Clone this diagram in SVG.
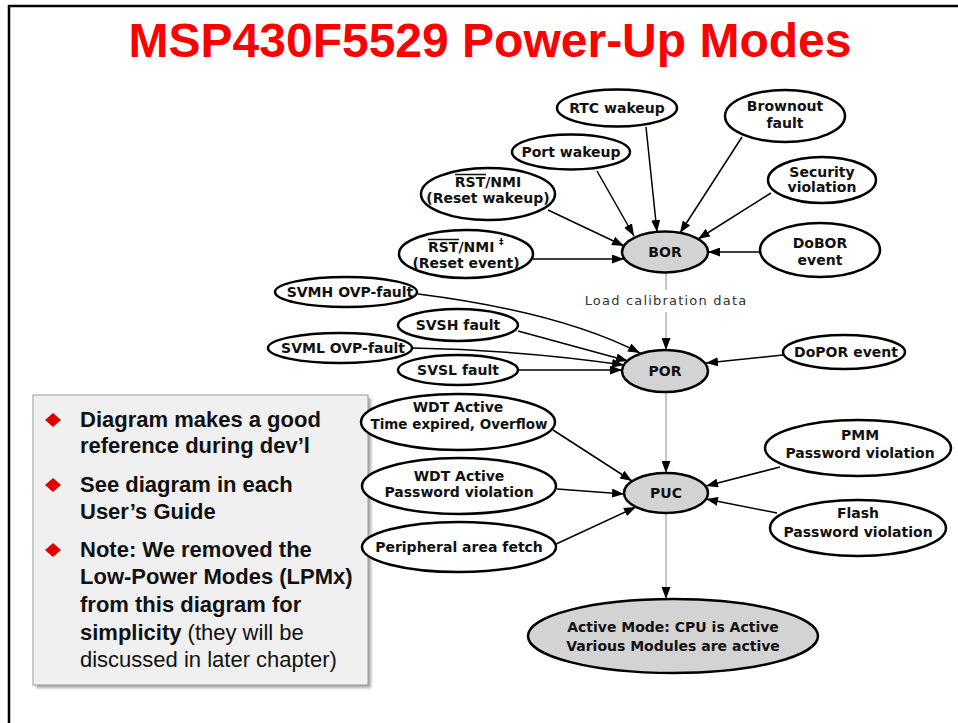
<svg xmlns="http://www.w3.org/2000/svg" width="958" height="723" viewBox="0 0 958 723">
<defs>
<style>
.n ellipse{fill:#fff;stroke:#000;stroke-width:2.5}
.n.g ellipse{fill:#d3d3d3}
.lbl{font-family:"DejaVu Sans",sans-serif;font-weight:bold;font-size:14px;text-anchor:middle;fill:#111}
.c{stroke:#000;stroke-width:1.5;fill:none;marker-end:url(#ah)}
.v{stroke:#8a8a8a;stroke-width:1;fill:none}
.va{stroke:#8a8a8a;stroke-width:1;fill:none;marker-end:url(#ah)}
.bt{font-family:"Liberation Sans",Arial,sans-serif;font-size:22px;fill:#111}
.b{font-weight:bold}
.dm{fill:#e00000}
</style>
<marker id="ah" viewBox="0 0 12 9" refX="12" refY="4.5" markerWidth="12" markerHeight="9" markerUnits="userSpaceOnUse" orient="auto">
<path d="M0,0 L12,4.5 L0,9 z" fill="#000"/>
</marker>
<filter id="sh" x="-5%" y="-5%" width="115%" height="115%">
<feGaussianBlur stdDeviation="1.5"/>
</filter>
</defs>
<rect x="0" y="0" width="958" height="723" fill="#fff"/>
<path d="M9,723 L9,6 L958,6" fill="none" stroke="#000" stroke-width="2.5"/>
<text x="490" y="57" font-family="Liberation Sans,Arial,sans-serif" font-weight="bold" font-size="48" fill="#ff0000" text-anchor="middle">MSP430F5529 Power-Up Modes</text>

<g id="notes">
<rect x="36" y="398" width="335" height="290" fill="#a8a8a8" filter="url(#sh)"/>
<rect x="33" y="395" width="335" height="290" fill="#f0f0f0" stroke="#9a9a9a" stroke-width="1"/>
<polygon class="dm" points="53,413 61,420 53,427 45,420"/>
<polygon class="dm" points="53,478 61,485 53,492 45,485"/>
<polygon class="dm" points="53,543 61,550 53,557 45,550"/>
<text class="bt b" x="80" y="427">Diagram makes a good</text>
<text class="bt b" x="80" y="453">reference during dev’l</text>
<text class="bt b" x="80" y="492">See diagram in each</text>
<text class="bt b" x="80" y="519">User’s Guide</text>
<text class="bt b" x="80" y="557">Note: We removed the</text>
<text class="bt b" x="80" y="584">Low-Power Modes (LPMx)</text>
<text class="bt b" x="80" y="612">from this diagram for</text>
<text class="bt" x="80" y="640"><tspan class="b">simplicity</tspan> (they will be</text>
<text class="bt" x="80" y="667">discussed in later chapter)</text>
</g>

<g id="connectors">
<path class="c" d="M646,127 L657,232"/>
<path class="c" d="M597,171 L634,236"/>
<path class="c" d="M548,210 L624,246"/>
<path class="c" d="M533,259 L624,259"/>
<path class="c" d="M742,137 L680,233"/>
<path class="c" d="M771,193 L698,239"/>
<path class="c" d="M760,252 L708,252"/>
<path class="v" d="M666,273 L666,290"/>
<path class="va" d="M666,312 L666,350"/>
<path class="va" d="M666,392 L666,473"/>
<path class="va" d="M666,513 L666,599"/>
<path class="c" d="M418,294 Q560,312 640,353"/>
<path class="c" d="M518,331 L628,361"/>
<path class="c" d="M412,348 Q520,350 624,365"/>
<path class="c" d="M518,370 L622,370"/>
<path class="c" d="M783,355 L706,363"/>
<path class="c" d="M553,430 L632,481"/>
<path class="c" d="M557,489 L624,494"/>
<path class="c" d="M554,545 L636,507"/>
<path class="c" d="M780,467 L706,486"/>
<path class="c" d="M777,513 L706,499"/>
</g>
<text x="666" y="305" font-family="DejaVu Sans,sans-serif" font-size="13" letter-spacing="1.2" fill="#333" text-anchor="middle">Load calibration data</text>

<g id="rtc" class="n"><ellipse cx="617" cy="108" rx="60" ry="18.5"/><text class="lbl" x="617" y="113">RTC wakeup</text></g>
<g id="port" class="n"><ellipse cx="571" cy="152" rx="59" ry="17.5"/><text class="lbl" x="571" y="157">Port wakeup</text></g>
<g id="rstwake" class="n"><ellipse cx="488" cy="194" rx="67" ry="26"/><text class="lbl" x="488" y="187">RST/NMI</text><line x1="455" y1="174.5" x2="486" y2="174.5" stroke="#111" stroke-width="1.5"/><text class="lbl" x="488" y="203">(Reset wakeup)</text></g>
<g id="rstevent" class="n"><ellipse cx="466" cy="254" rx="67" ry="24"/><text class="lbl" x="428" y="252" style="text-anchor:start">RST/NMI</text><text x="499" y="245" font-family="DejaVu Sans,sans-serif" font-size="9" font-weight="bold" fill="#111">‡</text><line x1="428" y1="239.5" x2="459" y2="239.5" stroke="#111" stroke-width="1.5"/><text class="lbl" x="466" y="268">(Reset event)</text></g>
<g id="brownout" class="n"><ellipse cx="785" cy="116" rx="60" ry="26"/><text class="lbl" x="785" y="111">Brownout</text><text class="lbl" x="785" y="128">fault</text></g>
<g id="security" class="n"><ellipse cx="822" cy="180" rx="54" ry="23"/><text class="lbl" x="822" y="177">Security</text><text class="lbl" x="822" y="192">violation</text></g>
<g id="dobor" class="n"><ellipse cx="820" cy="250" rx="60" ry="27"/><text class="lbl" x="820" y="248">DoBOR</text><text class="lbl" x="820" y="265">event</text></g>
<g id="bor" class="n g"><ellipse cx="665" cy="252" rx="43" ry="20.5"/><text class="lbl" x="665" y="257">BOR</text></g>
<g id="svmh" class="n"><ellipse cx="346" cy="292" rx="71" ry="15"/><text class="lbl" x="350" y="297">SVMH OVP-fault</text></g>
<g id="svsh" class="n"><ellipse cx="458" cy="325" rx="60" ry="16"/><text class="lbl" x="458" y="330">SVSH fault</text></g>
<g id="svml" class="n"><ellipse cx="340" cy="348" rx="72" ry="15"/><text class="lbl" x="343" y="353">SVML OVP-fault</text></g>
<g id="svsl" class="n"><ellipse cx="458" cy="370" rx="60" ry="15"/><text class="lbl" x="458" y="375">SVSL fault</text></g>
<g id="dopor" class="n"><ellipse cx="844" cy="352" rx="61" ry="17"/><text class="lbl" x="846" y="357">DoPOR event</text></g>
<g id="por" class="n g"><ellipse cx="665" cy="371" rx="43" ry="21"/><text class="lbl" x="665" y="376">POR</text></g>
<g id="wdttime" class="n"><ellipse cx="458" cy="422" rx="97" ry="28"/><text class="lbl" x="458" y="412">WDT Active</text><text class="lbl" x="459" y="429" style="font-size:13.5px">Time expired, Overflow</text></g>
<g id="wdtpw" class="n"><ellipse cx="459" cy="486" rx="97" ry="28"/><text class="lbl" x="459" y="481">WDT Active</text><text class="lbl" x="459" y="497">Password violation</text></g>
<g id="periph" class="n"><ellipse cx="459" cy="547" rx="97" ry="25"/><text class="lbl" x="459" y="552">Peripheral area fetch</text></g>
<g id="pmm" class="n"><ellipse cx="858" cy="448" rx="93" ry="28"/><text class="lbl" x="860" y="440">PMM</text><text class="lbl" x="860" y="458">Password violation</text></g>
<g id="flash" class="n"><ellipse cx="858" cy="528" rx="88" ry="28"/><text class="lbl" x="858" y="518">Flash</text><text class="lbl" x="858" y="537">Password violation</text></g>
<g id="puc" class="n g"><ellipse cx="666" cy="493" rx="42" ry="20"/><text class="lbl" x="666" y="498">PUC</text></g>
<g id="active" class="n g"><ellipse cx="673" cy="636" rx="145" ry="37"/><text class="lbl" x="673" y="632">Active Mode: CPU is Active</text><text class="lbl" x="673" y="651">Various Modules are active</text></g>
</svg>
